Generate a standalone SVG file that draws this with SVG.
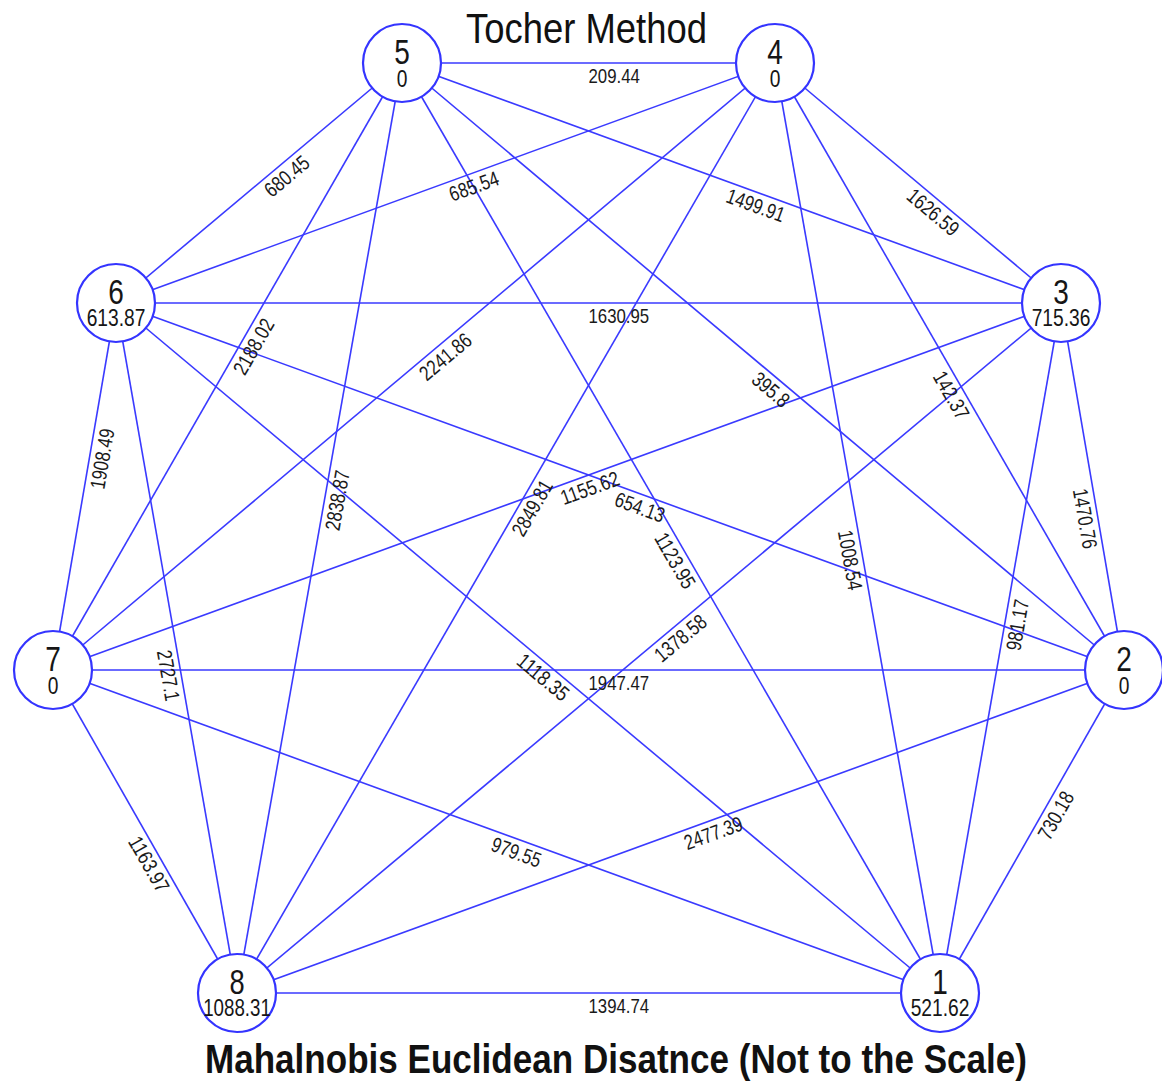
<svg xmlns="http://www.w3.org/2000/svg" width="1162" height="1083" viewBox="0 0 1162 1083">
<style>
.edge{stroke:#3a3aff;stroke-width:1.6;fill:none}
.el{font-family:"Liberation Sans",Arial,sans-serif;font-size:21px;fill:#1a1a1a}
.node circle{fill:#fff;stroke:#3434ff;stroke-width:2.2}
.nt{font-family:"Liberation Sans",Arial,sans-serif;fill:#161616;text-anchor:middle}
.nid{font-size:35px}
.nval{font-size:24px}
.title{font-family:"Liberation Sans",Arial,sans-serif;font-size:42px;fill:#111}
.sub{font-family:"Liberation Sans",Arial,sans-serif;font-size:40px;font-weight:bold;fill:#111}
</style>
<rect width="1162" height="1083" fill="#fff"/>
<text class="title" x="466" y="43" textLength="241" lengthAdjust="spacingAndGlyphs">Tocher Method</text>
<g id="connectors">
<line class="edge" x1="402" y1="63" x2="775" y2="63"/>
<line class="edge" x1="402" y1="63" x2="116" y2="303"/>
<line class="edge" x1="775" y1="63" x2="116" y2="303"/>
<line class="edge" x1="402" y1="63" x2="1061" y2="303"/>
<line class="edge" x1="775" y1="63" x2="1061" y2="303"/>
<line class="edge" x1="116" y1="303" x2="1061" y2="303"/>
<line class="edge" x1="402" y1="63" x2="53" y2="670"/>
<line class="edge" x1="775" y1="63" x2="53" y2="670"/>
<line class="edge" x1="402" y1="63" x2="1124" y2="670"/>
<line class="edge" x1="775" y1="63" x2="1124" y2="670"/>
<line class="edge" x1="1061" y1="303" x2="1124" y2="670"/>
<line class="edge" x1="116" y1="303" x2="53" y2="670"/>
<line class="edge" x1="402" y1="63" x2="237" y2="993"/>
<line class="edge" x1="775" y1="63" x2="237" y2="993"/>
<line class="edge" x1="1061" y1="303" x2="53" y2="670"/>
<line class="edge" x1="116" y1="303" x2="1124" y2="670"/>
<line class="edge" x1="402" y1="63" x2="940" y2="993"/>
<line class="edge" x1="775" y1="63" x2="940" y2="993"/>
<line class="edge" x1="1061" y1="303" x2="940" y2="993"/>
<line class="edge" x1="1061" y1="303" x2="237" y2="993"/>
<line class="edge" x1="53" y1="670" x2="1124" y2="670"/>
<line class="edge" x1="116" y1="303" x2="940" y2="993"/>
<line class="edge" x1="116" y1="303" x2="237" y2="993"/>
<line class="edge" x1="53" y1="670" x2="940" y2="993"/>
<line class="edge" x1="1124" y1="670" x2="237" y2="993"/>
<line class="edge" x1="1124" y1="670" x2="940" y2="993"/>
<line class="edge" x1="53" y1="670" x2="237" y2="993"/>
<line class="edge" x1="237" y1="993" x2="940" y2="993"/>
<g id="edge-labels">
<text class="el" transform="translate(588.5,63)" x="0" y="20" textLength="51.4" lengthAdjust="spacingAndGlyphs">209.44</text>
<text class="el" transform="translate(259,183) rotate(-39.99)" x="0" y="20" textLength="51.4" lengthAdjust="spacingAndGlyphs">680.45</text>
<text class="el" transform="translate(445.5,183) rotate(-20.01)" x="0" y="20" textLength="51.4" lengthAdjust="spacingAndGlyphs">685.54</text>
<text class="el" transform="translate(731.5,183) rotate(20.01)" x="0" y="20" textLength="60.7" lengthAdjust="spacingAndGlyphs">1499.91</text>
<text class="el" transform="translate(918,183) rotate(39.99)" x="0" y="20" textLength="60.7" lengthAdjust="spacingAndGlyphs">1626.59</text>
<text class="el" transform="translate(588.5,303)" x="0" y="20" textLength="60.7" lengthAdjust="spacingAndGlyphs">1630.95</text>
<text class="el" transform="translate(227.5,366.5) rotate(-60.10)" x="0" y="20" textLength="60.7" lengthAdjust="spacingAndGlyphs">2188.02</text>
<text class="el" transform="translate(414,366.5) rotate(-40.06)" x="0" y="20" textLength="60.7" lengthAdjust="spacingAndGlyphs">2241.86</text>
<text class="el" transform="translate(763,366.5) rotate(40.06)" x="0" y="20" textLength="42" lengthAdjust="spacingAndGlyphs">395.8</text>
<text class="el" transform="translate(949.5,366.5) rotate(60.10)" x="0" y="20" textLength="51.4" lengthAdjust="spacingAndGlyphs">142.37</text>
<text class="el" transform="translate(1092.5,486.5) rotate(80.26)" x="0" y="20" textLength="60.7" lengthAdjust="spacingAndGlyphs">1470.76</text>
<text class="el" transform="translate(84.5,486.5) rotate(-80.26)" x="0" y="20" textLength="60.7" lengthAdjust="spacingAndGlyphs">1908.49</text>
<text class="el" transform="translate(319.5,528) rotate(-79.94)" x="0" y="20" textLength="60.7" lengthAdjust="spacingAndGlyphs">2838.87</text>
<text class="el" transform="translate(506,528) rotate(-59.95)" x="0" y="20" textLength="60.7" lengthAdjust="spacingAndGlyphs">2849.81</text>
<text class="el" transform="translate(557,486.5) rotate(-20.01)" x="0" y="20" textLength="60.7" lengthAdjust="spacingAndGlyphs">1155.62</text>
<text class="el" transform="translate(620,486.5) rotate(20.01)" x="0" y="20" textLength="51.4" lengthAdjust="spacingAndGlyphs">654.13</text>
<text class="el" transform="translate(671,528) rotate(59.95)" x="0" y="20" textLength="60.7" lengthAdjust="spacingAndGlyphs">1123.95</text>
<text class="el" transform="translate(857.5,528) rotate(79.94)" x="0" y="20" textLength="60.7" lengthAdjust="spacingAndGlyphs">1008.54</text>
<text class="el" transform="translate(1000.5,648) rotate(-80.05)" x="0" y="20" textLength="51.4" lengthAdjust="spacingAndGlyphs">981.17</text>
<text class="el" transform="translate(649,648) rotate(-39.94)" x="0" y="20" textLength="60.7" lengthAdjust="spacingAndGlyphs">1378.58</text>
<text class="el" transform="translate(588.5,670)" x="0" y="20" textLength="60.7" lengthAdjust="spacingAndGlyphs">1947.47</text>
<text class="el" transform="translate(528,648) rotate(39.94)" x="0" y="20" textLength="60.7" lengthAdjust="spacingAndGlyphs">1118.35</text>
<text class="el" transform="translate(176.5,648) rotate(80.05)" x="0" y="20" textLength="51.4" lengthAdjust="spacingAndGlyphs">2727.1</text>
<text class="el" transform="translate(496.5,831.5) rotate(20.01)" x="0" y="20" textLength="51.4" lengthAdjust="spacingAndGlyphs">979.55</text>
<text class="el" transform="translate(680.5,831.5) rotate(-20.01)" x="0" y="20" textLength="60.7" lengthAdjust="spacingAndGlyphs">2477.39</text>
<text class="el" transform="translate(1032,831.5) rotate(-60.33)" x="0" y="20" textLength="51.4" lengthAdjust="spacingAndGlyphs">730.18</text>
<text class="el" transform="translate(145,831.5) rotate(60.33)" x="0" y="20" textLength="60.7" lengthAdjust="spacingAndGlyphs">1163.97</text>
<text class="el" transform="translate(588.5,993)" x="0" y="20" textLength="60.7" lengthAdjust="spacingAndGlyphs">1394.74</text>
</g>
</g>
<g id="node-5" class="node"><circle cx="402" cy="63" r="39"/><text class="nt" transform="translate(402,63) scale(0.8,1)"><tspan class="nid" x="0" y="1">5</tspan><tspan class="nval" x="0" y="24">0</tspan></text></g>
<g id="node-4" class="node"><circle cx="775" cy="63" r="39"/><text class="nt" transform="translate(775,63) scale(0.8,1)"><tspan class="nid" x="0" y="1">4</tspan><tspan class="nval" x="0" y="24">0</tspan></text></g>
<g id="node-6" class="node"><circle cx="116" cy="303" r="39"/><text class="nt" transform="translate(116,303) scale(0.8,1)"><tspan class="nid" x="0" y="1">6</tspan><tspan class="nval" x="0" y="23">613.87</tspan></text></g>
<g id="node-3" class="node"><circle cx="1061" cy="303" r="39"/><text class="nt" transform="translate(1061,303) scale(0.8,1)"><tspan class="nid" x="0" y="1">3</tspan><tspan class="nval" x="0" y="23">715.36</tspan></text></g>
<g id="node-7" class="node"><circle cx="53" cy="670" r="39"/><text class="nt" transform="translate(53,670) scale(0.8,1)"><tspan class="nid" x="0" y="1">7</tspan><tspan class="nval" x="0" y="24">0</tspan></text></g>
<g id="node-2" class="node"><circle cx="1124" cy="670" r="39"/><text class="nt" transform="translate(1124,670) scale(0.8,1)"><tspan class="nid" x="0" y="1">2</tspan><tspan class="nval" x="0" y="24">0</tspan></text></g>
<g id="node-8" class="node"><circle cx="237" cy="993" r="39"/><text class="nt" transform="translate(237,993) scale(0.78,1)"><tspan class="nid" x="0" y="1">8</tspan><tspan class="nval" x="0" y="23">1088.31</tspan></text></g>
<g id="node-1" class="node"><circle cx="940" cy="993" r="39"/><text class="nt" transform="translate(940,993) scale(0.8,1)"><tspan class="nid" x="0" y="1">1</tspan><tspan class="nval" x="0" y="23">521.62</tspan></text></g>
<text class="sub" x="205" y="1073" textLength="822" lengthAdjust="spacingAndGlyphs">Mahalnobis Euclidean Disatnce (Not to the Scale)</text>
</svg>
